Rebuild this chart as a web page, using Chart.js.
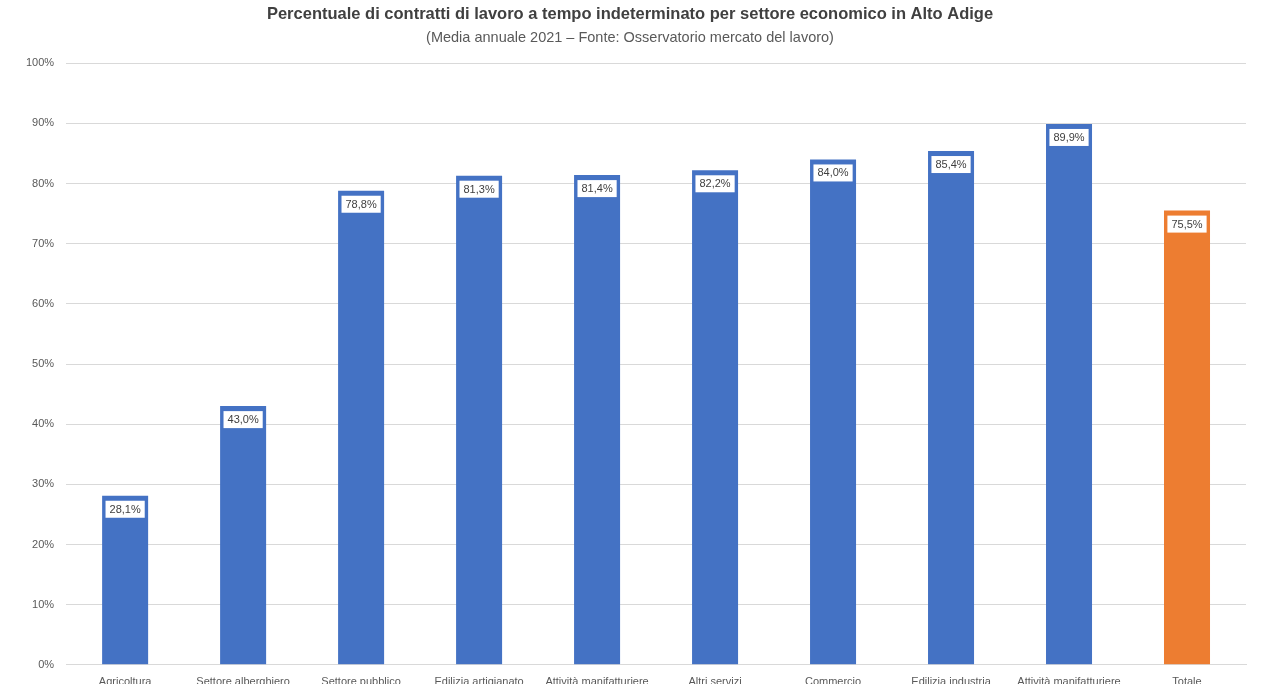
<!DOCTYPE html>
<html>
<head>
<meta charset="utf-8">
<script src="https://cdn.jsdelivr.net/npm/chart.js@4/dist/chart.umd.min.js"></script>
<style>
    html, body { margin: 0; padding: 0; background: #fff; overflow: hidden; }
    #wrap { width: 1280px; height: 700px; position: relative; }
</style>
</head>
<body>
<div id="wrap"><canvas id="sectorChart"></canvas></div>
<script>
const categories = [
    "Agricoltura", "Settore alberghiero", "Settore pubblico", "Edilizia artigianato",
    "Attività manifatturiere", "Altri servizi", "Commercio", "Edilizia industria",
    "Attività manifatturiere", "Totale"
];
const shares = [28.1, 43.0, 78.8, 81.3, 81.4, 82.2, 84.0, 85.4, 89.9, 75.5];
const barColors = [
    "#4472c4", "#4472c4", "#4472c4", "#4472c4", "#4472c4",
    "#4472c4", "#4472c4", "#4472c4", "#4472c4", "#ed7d31"
];

// labels in white boxes just inside the top of each bar
const valueBoxes = {
    id: "valueBoxes",
    afterDatasetsDraw(chart) {
        const c = chart.ctx;
        const meta = chart.getDatasetMeta(0);
        c.save();
        c.font = "11px 'Liberation Sans', Arial, sans-serif";
        c.textAlign = "center";
        c.textBaseline = "middle";
        meta.data.forEach((bar, i) => {
            const txt = shares[i].toFixed(1).replace(".", ",") + "%";
            const w = c.measureText(txt).width + 8;
            const h = 17;
            const y = bar.y + 5;
            c.fillStyle = "#ffffff";
            c.fillRect(bar.x - w / 2, y, w, h);
            c.fillStyle = "#404040";
            c.fillText(txt, bar.x, y + h / 2 + 0.5);
        });
        c.restore();
    }
};

new Chart(document.getElementById("sectorChart").getContext("2d"), {
    type: "bar",
    data: {
        labels: categories,
        datasets: [{
            data: shares,
            backgroundColor: barColors,
            barPercentage: 0.6,
            categoryPercentage: 0.65
        }]
    },
    options: {
        responsive: true,
        maintainAspectRatio: false,
        animation: false,
        layout: { padding: { left: 14, right: 34, top: 0, bottom: 0 } },
        plugins: {
            legend: { display: false },
            tooltip: { enabled: false },
            title: {
                display: true,
                text: "Percentuale di contratti di lavoro a tempo indeterminato per settore economico in Alto Adige",
                color: "#404040",
                font: { family: "'Liberation Sans', sans-serif", size: 16.5, weight: "bold" },
                padding: { top: 5, bottom: 4 }
            },
            subtitle: {
                display: true,
                text: "(Media annuale 2021 – Fonte: Osservatorio mercato del lavoro)",
                color: "#595959",
                font: { family: "'Liberation Sans', sans-serif", size: 14.5 },
                padding: { bottom: 17 }
            }
        },
        scales: {
            x: {
                grid: { display: false, drawTicks: false },
                border: { color: "#d9d9d9" },
                ticks: {
                    color: "#595959",
                    font: { family: "'Liberation Sans', sans-serif", size: 11 },
                    padding: 11,
                    maxRotation: 0,
                    autoSkip: false
                }
            },
            y: {
                min: 0,
                max: 100,
                grid: { color: "#d9d9d9", drawTicks: false },
                border: { display: false },
                ticks: {
                    stepSize: 10,
                    color: "#595959",
                    padding: 12,
                    font: { family: "'Liberation Sans', sans-serif", size: 11 },
                    callback: v => v + "%"
                }
            }
        }
    },
    plugins: [valueBoxes]
});
</script>
</body>
</html>
